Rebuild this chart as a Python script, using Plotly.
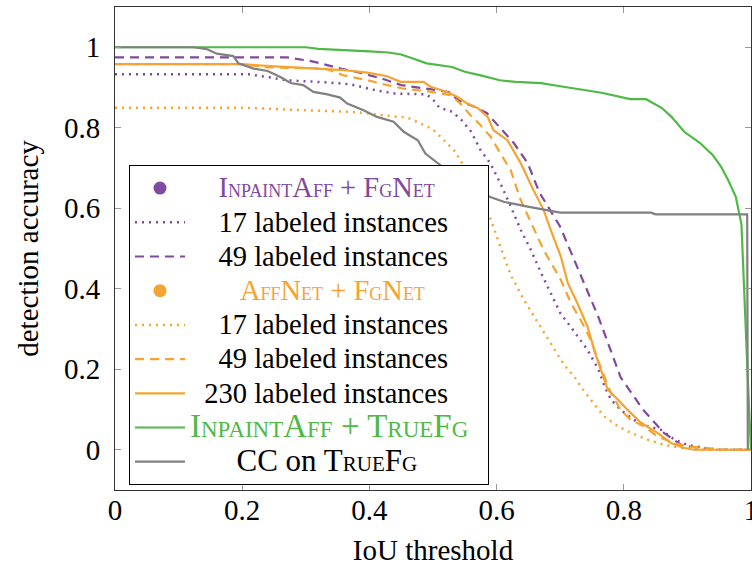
import plotly.graph_objects as go

# ---------------- data ----------------
iou_p17 = [0, 0.21, 0.24, 0.27, 0.33, 0.37, 0.41, 0.44, 0.49, 0.50, 0.51, 0.53, 0.545, 0.56, 0.575, 0.59,
           0.605, 0.62, 0.638, 0.654, 0.67, 0.685, 0.70, 0.72, 0.743, 0.76, 0.77, 0.78, 0.795, 0.816, 0.838,
           0.858, 0.88, 0.90, 0.925, 0.95, 1.0]
acc_p17 = [0.933, 0.933, 0.926, 0.918, 0.913, 0.908, 0.893, 0.885, 0.883, 0.87, 0.85, 0.84, 0.819, 0.79, 0.744,
           0.712, 0.665, 0.613, 0.546, 0.496, 0.439, 0.389, 0.34, 0.298, 0.248, 0.2, 0.157, 0.124, 0.099, 0.074,
           0.058, 0.05, 0.025, 0.012, 0.005, 0, 0]

iou_p49 = [0, 0.27, 0.31, 0.335, 0.355, 0.385, 0.42, 0.45, 0.5, 0.525, 0.54, 0.565, 0.585, 0.605, 0.627,
           0.649, 0.667, 0.70, 0.73, 0.76, 0.795, 0.83, 0.863, 0.89, 0.92, 0.95, 1.0]
acc_p49 = [0.975, 0.975, 0.965, 0.955, 0.947, 0.937, 0.922, 0.906, 0.895, 0.889, 0.868, 0.852, 0.836, 0.802,
           0.762, 0.712, 0.64, 0.554, 0.44, 0.33, 0.18, 0.10, 0.042, 0.012, 0.004, 0, 0]

iou_o17 = [0, 0.2, 0.29, 0.38, 0.42, 0.46, 0.48, 0.50, 0.517, 0.533, 0.543, 0.56, 0.575, 0.591, 0.606, 0.622,
           0.643, 0.665, 0.685, 0.706, 0.722, 0.738, 0.754, 0.769, 0.791, 0.811, 0.838, 0.863, 0.89, 0.92, 1.0]
acc_o17 = [0.85, 0.85, 0.844, 0.839, 0.831, 0.825, 0.811, 0.796, 0.769, 0.744, 0.72, 0.67, 0.62, 0.571, 0.504,
           0.435, 0.372, 0.315, 0.265, 0.211, 0.182, 0.145, 0.112, 0.083, 0.058, 0.042, 0.025, 0.012, 0.005, 0, 0]

iou_o49 = [0, 0.2, 0.24, 0.33, 0.36, 0.397, 0.428, 0.454, 0.49, 0.528, 0.543, 0.559, 0.575, 0.591, 0.606,
           0.622, 0.638, 0.654, 0.674, 0.701, 0.717, 0.732, 0.748, 0.764, 0.78, 0.795, 0.811, 0.832, 0.853,
           0.879, 0.901, 0.926, 0.95, 1.0]
acc_o49 = [0.958, 0.958, 0.95, 0.947, 0.93, 0.918, 0.906, 0.897, 0.891, 0.881, 0.86, 0.831, 0.806, 0.777,
           0.736, 0.695, 0.62, 0.563, 0.496, 0.422, 0.364, 0.323, 0.273, 0.203, 0.141, 0.099, 0.074, 0.058,
           0.033, 0.017, 0.008, 0.005, 0, 0]

iou_o230 = [0, 0.2, 0.244, 0.307, 0.36, 0.397, 0.428, 0.449, 0.485, 0.496, 0.522, 0.538, 0.554, 0.57, 0.586,
            0.595, 0.617, 0.638, 0.658, 0.674, 0.685, 0.701, 0.712, 0.727, 0.743, 0.755, 0.775, 0.791, 0.806,
            0.827, 0.853, 0.874, 0.894, 0.91, 1.0]
acc_o230 = [0.958, 0.958, 0.953, 0.947, 0.943, 0.937, 0.928, 0.914, 0.914, 0.902, 0.889, 0.877, 0.86, 0.849,
            0.827, 0.794, 0.769, 0.712, 0.645, 0.596, 0.546, 0.48, 0.414, 0.364, 0.306, 0.24, 0.149, 0.124,
            0.099, 0.067, 0.042, 0.017, 0.005, 0, 0]

iou_green = [0, 0.30, 0.32, 0.37, 0.40, 0.43, 0.45, 0.465, 0.49, 0.53, 0.55, 0.575, 0.605, 0.63, 0.67, 0.70,
             0.73, 0.765, 0.81, 0.835, 0.86, 0.875, 0.895, 0.92, 0.94, 0.953, 0.964, 0.976, 0.985, 0.99,
             0.997, 1.0]
acc_green = [1, 1, 0.996, 0.993, 0.99, 0.987, 0.982, 0.974, 0.96, 0.951, 0.939, 0.93, 0.918, 0.914, 0.911,
             0.903, 0.895, 0.887, 0.871, 0.871, 0.849, 0.827, 0.79, 0.762, 0.732, 0.703, 0.67, 0.629, 0.56,
             0.35, 0.1, 0.0]

iou_cc = [0, 0.123, 0.145, 0.16, 0.186, 0.194, 0.218, 0.24, 0.26, 0.276, 0.296, 0.312, 0.334, 0.354, 0.365,
          0.39, 0.412, 0.438, 0.454, 0.476, 0.488, 0.512, 0.55, 0.59, 0.611, 0.649, 0.674, 0.70, 0.843, 0.85,
          0.994, 0.995]
acc_cc = [1, 1, 0.995, 0.984, 0.978, 0.96, 0.947, 0.941, 0.926, 0.911, 0.906, 0.889, 0.883, 0.875, 0.86,
          0.844, 0.827, 0.815, 0.79, 0.769, 0.736, 0.707, 0.66, 0.628, 0.616, 0.604, 0.596, 0.589, 0.589, 0.585,
          0.585, 0.0]

tick_vals = [0, 0.2, 0.4, 0.6, 0.8, 1]
tick_text = ["0", "0.2", "0.4", "0.6", "0.8", "1"]

# ---------------- styling ----------------
PURPLE = "#7f4a9f"
ORANGE = "#f5a431"
GREEN = "#4fb946"
GREY = "#808080"
FONT = "Liberation Serif"
BIG = 28.5
NBSP = "\u00a0"


def sc(text, color="black", big=BIG, small=18, pad=0, tail=0):
    """Render text in small caps using sized spans (lowercase -> smaller capitals)."""
    runs = []
    cur, cur_small = "", None
    for ch in text:
        is_small = ch.islower()
        if cur_small is None or is_small == cur_small:
            cur += ch
        else:
            runs.append((cur, cur_small))
            cur = ch
        cur_small = is_small
    if cur:
        runs.append((cur, cur_small))
    out = []
    if pad:
        out.append(f'<span style="font-size:{BIG}px">{NBSP * pad}</span>')
    for r, small_run in runs:
        size = small if small_run else big
        out.append(f'<span style="font-size:{size}px;color:{color}">{r.upper() if small_run else r}</span>')
    if tail:
        out.append(f'<span style="font-size:{BIG}px">{NBSP * tail}</span>')
    return "".join(out)


def plain(text, pad=0, size=BIG):
    return f'<span style="font-size:{size}px">{NBSP * pad}{text}</span>'


fig = go.Figure()

fig.add_trace(go.Scatter(x=[None], y=[None], mode="markers",
                         marker=dict(color=PURPLE, size=13),
                         name=sc("InpaintAff + FgNet", PURPLE, pad=4)))
fig.add_trace(go.Scatter(x=iou_p17, y=acc_p17, mode="lines",
                         line=dict(color=PURPLE, width=2.5, dash="2px,5px"),
                         name=plain("17 labeled instances", 4)))
fig.add_trace(go.Scatter(x=iou_p49, y=acc_p49, mode="lines",
                         line=dict(color=PURPLE, width=2.2, dash="9px,6px"),
                         name=plain("49 labeled instances", 4)))
fig.add_trace(go.Scatter(x=[None], y=[None], mode="markers",
                         marker=dict(color=ORANGE, size=13),
                         name=sc("AffNet + FgNet", ORANGE, pad=7)))
fig.add_trace(go.Scatter(x=iou_o17, y=acc_o17, mode="lines",
                         line=dict(color=ORANGE, width=2.5, dash="2px,5px"),
                         name=plain("17 labeled instances", 4)))
fig.add_trace(go.Scatter(x=iou_o49, y=acc_o49, mode="lines",
                         line=dict(color=ORANGE, width=2.2, dash="9px,6px"),
                         name=plain("49 labeled instances", 4)))
fig.add_trace(go.Scatter(x=iou_o230, y=acc_o230, mode="lines",
                         line=dict(color=ORANGE, width=2.2),
                         name=plain("230 labeled instances", 2)))
fig.add_trace(go.Scatter(x=iou_green, y=acc_green, mode="lines",
                         line=dict(color=GREEN, width=2.2),
                         name=sc("InpaintAff + TrueFg", GREEN, big=33, small=23, tail=2)))
fig.add_trace(go.Scatter(x=iou_cc, y=acc_cc, mode="lines",
                         line=dict(color=GREY, width=2.2),
                         name=plain("CC on ", 6, 31) + sc("TrueFg", "black", big=31, small=21)))

axis_common = dict(
    showgrid=False, zeroline=False, showline=True, linecolor="#333333", linewidth=1,
    mirror="ticks", ticks="inside", ticklen=6, tickwidth=1, tickcolor="#9a9a9a",
    tickvals=tick_vals, ticktext=tick_text, ticklabeloverflow="allow",
    tickfont=dict(family=FONT, size=29, color="black"),
)

fig.update_layout(
    width=752, height=567,
    margin=dict(l=115, r=1, t=7, b=77, autoexpand=False),
    paper_bgcolor="white", plot_bgcolor="white",
    font=dict(family=FONT, size=BIG, color="black"),
    xaxis=dict(range=[0, 1], ticklabelstandoff=-6,
               title=dict(text="IoU threshold", font=dict(family=FONT, size=29), standoff=14),
               **axis_common),
    yaxis=dict(range=[-0.1, 1.1], ticklabelstandoff=8,
               title=dict(text="detection accuracy", font=dict(family=FONT, size=29), standoff=16),
               **axis_common),
    legend=dict(x=14 / 636, y=(490 - 165) / 483, xanchor="left", yanchor="top",
                bgcolor="white", bordercolor="black", borderwidth=1,
                font=dict(family=FONT, size=24, color="black"),
                itemwidth=50, tracegroupgap=0, traceorder="normal"),
    showlegend=True,
)

# remove the default 8px page margin so the figure sits at the window's top-left corner
fig.write_html(
    "out.html",
    config={"displayModeBar": False},
    post_script="document.body.style.margin='0';"
                "document.documentElement.style.overflow='hidden';"
                "document.body.style.overflow='hidden';",
)
